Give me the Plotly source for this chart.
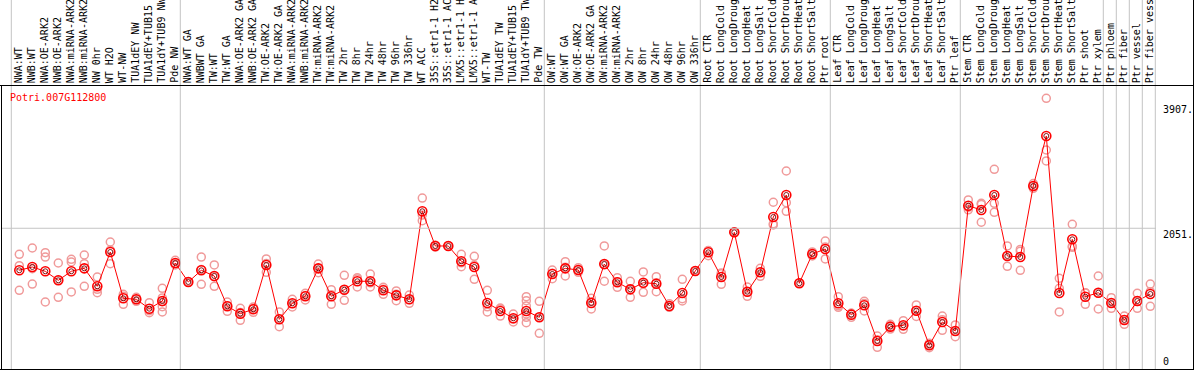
import plotly.graph_objects as go

W, H = 1194, 370

categories = [
    "NWA:WT", "NWB:WT", "NWA:OE-ARK2", "NWB:OE-ARK2", "NWA:miRNA-ARK2", "NWB:miRNA-ARK2",
    "NW 0hr", "WT H2O", "WT-NW", "TUA1dEY NW", "TUA1dEY+TUB15 NW", "TUA1dY+TUB9 NW", "Pde NW",
    "NWA:WT GA", "NWBWT GA", "TW:WT", "TW:WT GA", "NWA:OE-ARK2 GA", "NWB:OE-ARK2 GA",
    "TW:OE-ARK2", "TW:OE-ARK2 GA", "NWA:miRNA-ARK2", "NWB:miRNA-ARK2", "TW:miRNA-ARK2",
    "TW:miRNA-ARK2", "TW 2hr", "TW 8hr", "TW 24hr", "TW 48hr", "TW 96hr", "TW 336hr", "WT ACC",
    "35S::etr1-1 H2O", "35S::etr1-1 ACC", "LMX5::etr1-1 H2O", "LMX5::etr1-1 ACC", "WT-TW",
    "TUA1dEY TW", "TUA1dEY+TUB15 TW", "TUA1dY+TUB9 TW", "Pde TW",
    "OW:WT", "OW:WT GA", "OW:OE-ARK2", "OW:OE-ARK2 GA", "OW:miRNA-ARK2", "OW:miRNA-ARK2",
    "OW 2hr", "OW 8hr", "OW 24hr", "OW 48hr", "OW 96hr", "OW 336hr",
    "Root CTR", "Root LongCold", "Root LongDrought", "Root LongHeat", "Root LongSalt",
    "Root ShortCold", "Root ShortDrought", "Root ShortHeat", "Root ShortSalt", "Ptr root",
    "Leaf CTR", "Leaf LongCold", "Leaf LongDrought", "Leaf LongHeat", "Leaf LongSalt",
    "Leaf ShortCold", "Leaf ShortDrought", "Leaf ShortHeat", "Leaf ShortSalt", "Ptr leaf",
    "Stem CTR", "Stem LongCold", "Stem LongDrought", "Stem LongHeat", "Stem LongSalt",
    "Stem ShortCold", "Stem ShortDrought", "Stem ShortHeat", "Stem ShortSalt", "Ptr shoot",
    "Ptr xylem", "Ptr phloem", "Ptr fiber", "Ptr vessel", "Ptr fiber vessel",
]

means = [
    1427, 1476, 1412, 1278, 1412, 1456, 1189, 1699, 1011, 996, 857, 971, 1535,
    1253, 1427, 1342, 892, 783, 848, 1506, 699, 937, 1041, 1456, 1041, 1139, 1264, 1264,
    1130, 1055, 996, 2303, 1788, 1788, 1561, 1476, 941, 823, 714, 823, 729,
    1372, 1456, 1431, 941, 1520, 1249, 1144, 1243, 1228, 897, 1090, 1417,
    1694, 1327, 1991, 1109, 1397, 2218, 2545, 1234, 1669, 1743,
    937, 768, 907, 377, 590, 610, 827, 313, 659, 526,
    2386, 2322, 2545, 1639, 1624, 2679, 3421, 1090, 1887, 1035,
    1094, 941, 689, 971, 1075,
]

replicates = [
    [1664, 1496, 1130], [1758, 1450, 1223], [1688, 1624, 956], [1535, 1278, 1026],
    [1590, 1550, 1105], [1654, 1525, 1189], [1327, 1144, 1094], [1847, 1725, 1525],
    [1070, 1041, 922], [1026, 996, 967], [946, 828, 797], [1159, 1016, 960, 887, 808],
    [1575, 1525, 1506], [1253, 1253, 1253], [1624, 1438, 1219], [1506, 1331, 1189],
    [956, 902, 818], [863, 802, 684], [882, 859, 803], [1595, 1526, 1397],
    [808, 699, 590], [996, 933, 882], [1085, 1052, 986], [1520, 1457, 1391],
    [1139, 1062, 922], [1353, 1139, 981], [1317, 1296, 1179], [1372, 1241, 1179],
    [1174, 1146, 1070], [1120, 1070, 976], [1060, 991, 937], [2500, 2246, 2163],
    [1800, 1794, 1770], [1788, 1788, 1788], [1664, 1538, 1481], [1635, 1500, 1293],
    [1130, 885, 808], [867, 854, 748], [778, 705, 659], [1035, 976, 897, 778, 729, 649],
    [966, 730, 491], [1431, 1383, 1302], [1555, 1471, 1342], [1465, 1431, 1397],
    [1011, 960, 852], [1788, 1508, 1264], [1317, 1256, 1174], [1264, 1142, 1026],
    [1402, 1227, 1100], [1332, 1243, 1109], [931, 883, 877], [1293, 1006, 971],
    [1417, 1417, 1417], [1720, 1718, 1644], [1387, 1375, 1219], [1991, 1991, 1991],
    [1177, 1109, 1041], [1456, 1397, 1338], [2437, 2117, 2100], [2901, 2431, 2303],
    [1234, 1234, 1234], [1700, 1669, 1640], [1862, 1772, 1595], [1035, 899, 877],
    [788, 788, 728], [966, 932, 823], [451, 397, 283], [625, 590, 555],
    [679, 601, 550], [912, 827, 742], [343, 318, 278], [748, 693, 536],
    [615, 522, 441], [2471, 2362, 2325], [2422, 2404, 2140], [2926, 2422, 2288],
    [1788, 1643, 1486], [1736, 1709, 1427], [2714, 2679, 2644], [3981, 3213, 3050],
    [1308, 1159, 808], [2110, 1783, 1768], [1094, 1089, 922], [1342, 1088, 852],
    [1020, 940, 863], [748, 694, 625], [1085, 965, 863], [1223, 1110, 892],
]

# group separators: after these category numbers (1-based)
separators = [0, 13, 41, 53, 63, 73, 84, 85, 86, 87, 88]
y_ticks = [0, 2051, 3907]
y_tick_labels = ["0", "2051.", "3907."]
gene = "Potri.007G112800"

xs = list(range(1, len(categories) + 1))
rx, ry = [], []
for i, reps in zip(xs, replicates):
    for v in reps:
        rx.append(i)
        ry.append(v)

X0, X1 = -0.4846, 91.3615
Y0, Y1 = -53.5, 5440.0

def px_x(i):
    return (i - X0) / (X1 - X0) * W

fig = go.Figure()
fig.add_trace(go.Scatter(
    x=rx, y=ry, mode="markers", hoverinfo="skip",
    marker=dict(symbol="circle-open", size=8, color="#f09a9a", line=dict(width=1.5, color="#f09a9a")),
))
fig.add_trace(go.Scatter(
    x=xs, y=means, mode="lines", line=dict(color="red", width=1), hoverinfo="skip",
))
fig.add_trace(go.Scatter(
    x=xs, y=means, mode="markers", hoverinfo="skip",
    marker=dict(symbol="circle-open", size=9, color="red", line=dict(width=1.6, color="red")),
))
fig.add_trace(go.Scatter(
    x=xs, y=means, mode="markers", hoverinfo="skip",
    marker=dict(symbol="circle-open", size=5, color="#700000", line=dict(width=0.9, color="#700000")),
))

shapes = []
def pyp(py):
    return 1 - py / H

for s in separators:
    xp = (px_x(s) + 5) / W
    shapes.append(dict(type="line", xref="paper", yref="paper", x0=xp, x1=xp, y0=0, y1=1,
                       line=dict(color="#c4c4c4", width=1)))
shapes.append(dict(type="line", xref="paper", yref="y", x0=2 / W, x1=1156 / W, y0=2051, y1=2051,
                   line=dict(color="#c4c4c4", width=1)))
shapes.append(dict(type="line", xref="paper", yref="paper", x0=0, x1=1193.5 / W, y0=pyp(85.5), y1=pyp(85.5),
                   line=dict(color="black", width=1)))
shapes.append(dict(type="line", xref="paper", yref="paper", x0=0, x1=1193.5 / W, y0=pyp(369.5), y1=pyp(369.5),
                   line=dict(color="black", width=1)))
shapes.append(dict(type="line", xref="paper", yref="paper", x0=1.5 / W, x1=1.5 / W, y0=pyp(85.5), y1=pyp(370),
                   line=dict(color="black", width=1)))
shapes.append(dict(type="line", xref="paper", yref="paper", x0=1193.5 / W, x1=1193.5 / W, y0=0, y1=1,
                   line=dict(color="black", width=1)))

MONO = "DejaVu Sans Mono"
annotations = []
for i, lab in zip(xs, categories):
    annotations.append(dict(
        x=i, xref="x", y=pyp(84), yref="paper", text=lab[:14].rstrip(), showarrow=False,
        textangle=-90, xanchor="center", yanchor="bottom", xshift=-1,
        font=dict(family=MONO, size=10, color="black"), borderpad=0,
    ))
annotations.append(dict(
    x=9 / W, xref="paper", y=pyp(97), yref="paper", text=gene, showarrow=False,
    xanchor="left", yanchor="middle", font=dict(family=MONO, size=10, color="red"), borderpad=0,
))
for v, t in zip(y_ticks, y_tick_labels):
    annotations.append(dict(
        x=1162 / W, xref="paper", y=v, yref="y", text=t, showarrow=False,
        xanchor="left", yanchor=("bottom" if v == 0 else "top"), yshift=(-2 if v == 0 else 0),
        font=dict(family=MONO, size=10, color="black"), borderpad=0,
    ))

fig.update_layout(
    width=W, height=H, margin=dict(l=0, r=0, t=0, b=0),
    paper_bgcolor="white", plot_bgcolor="white", showlegend=False,
    xaxis=dict(range=[X0, X1], visible=False, fixedrange=True),
    yaxis=dict(range=[Y0, Y1], visible=False, fixedrange=True),
    shapes=shapes, annotations=annotations,
)
fig.write_html(
    "out.html",
    config={"displayModeBar": False},
    post_script="document.body.style.margin='0';document.body.style.padding='0';document.body.style.overflow='hidden';",
)
